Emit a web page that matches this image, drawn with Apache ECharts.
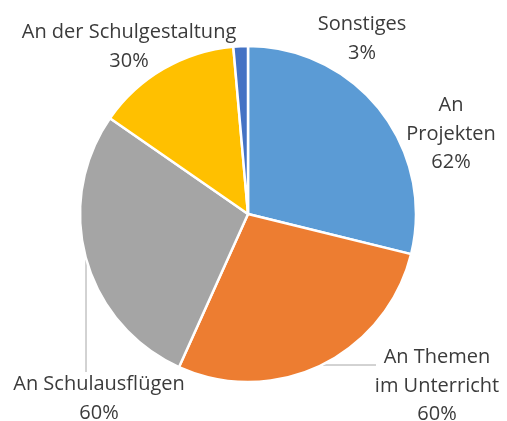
<!DOCTYPE html>
<html>
<head>
<meta charset="utf-8">
<script src="https://cdn.jsdelivr.net/npm/echarts@6/dist/echarts.min.js"></script>
<style>
  html, body { margin: 0; padding: 0; background: #fff; }
  #chart { width: 507px; height: 421px; }
</style>
</head>
<body>
<div id="chart"></div>
<script>
// Data
var categories = ['An\nProjekten', 'An Themen\nim Unterricht', 'An Schulausflügen', 'An der Schulgestaltung', 'Sonstiges'];
var values = [62, 60, 60, 30, 3];
var colors = ['#5B9BD5', '#ED7D31', '#A5A5A5', '#FFC000', '#4472C4'];

// label anchor (centre of text block) per slice
var labelPos = [[451, 134], [437, 386], [99, 399], [129, 47], [362, 39]];
var leaderLines = [null, [[323, 365], [350, 365], [376, 365]], [[86, 260], [86, 320], [86, 372]], null, null];

var chart = echarts.init(document.getElementById('chart'));

var option = {
  animation: false,
  color: colors,
  series: [
    {
      type: 'pie',
      center: [248, 214],
      radius: 168,
      startAngle: 90,
      clockwise: true,
      data: categories.map(function (name, i) {
        return {
          name: name,
          value: values[i],
          labelLine: {show: !!leaderLines[i]}
        };
      }),
      itemStyle: {
        borderColor: '#fff',
        borderWidth: 2.5
      },
      label: {
        show: true,
        position: 'outside',
        formatter: '{b}\n{c}%',
        fontFamily: 'Open Sans',
        fontSize: 20,
        lineHeight: 28.5,
        color: '#3b3b3b',
        align: 'center',
        overflow: 'none',
        width: 300
      },
      labelLine: {
        lineStyle: {color: '#A6A6A6', width: 1}
      },
      labelLayout: function (params) {
        var p = labelPos[params.dataIndex];
        var res = {
          x: p[0],
          y: p[1],
          align: 'center',
          verticalAlign: 'middle'
        };
        if (leaderLines[params.dataIndex]) {
          res.labelLinePoints = leaderLines[params.dataIndex];
        }
        return res;
      }
    }
  ]
};

chart.setOption(option);
</script>
</body>
</html>
